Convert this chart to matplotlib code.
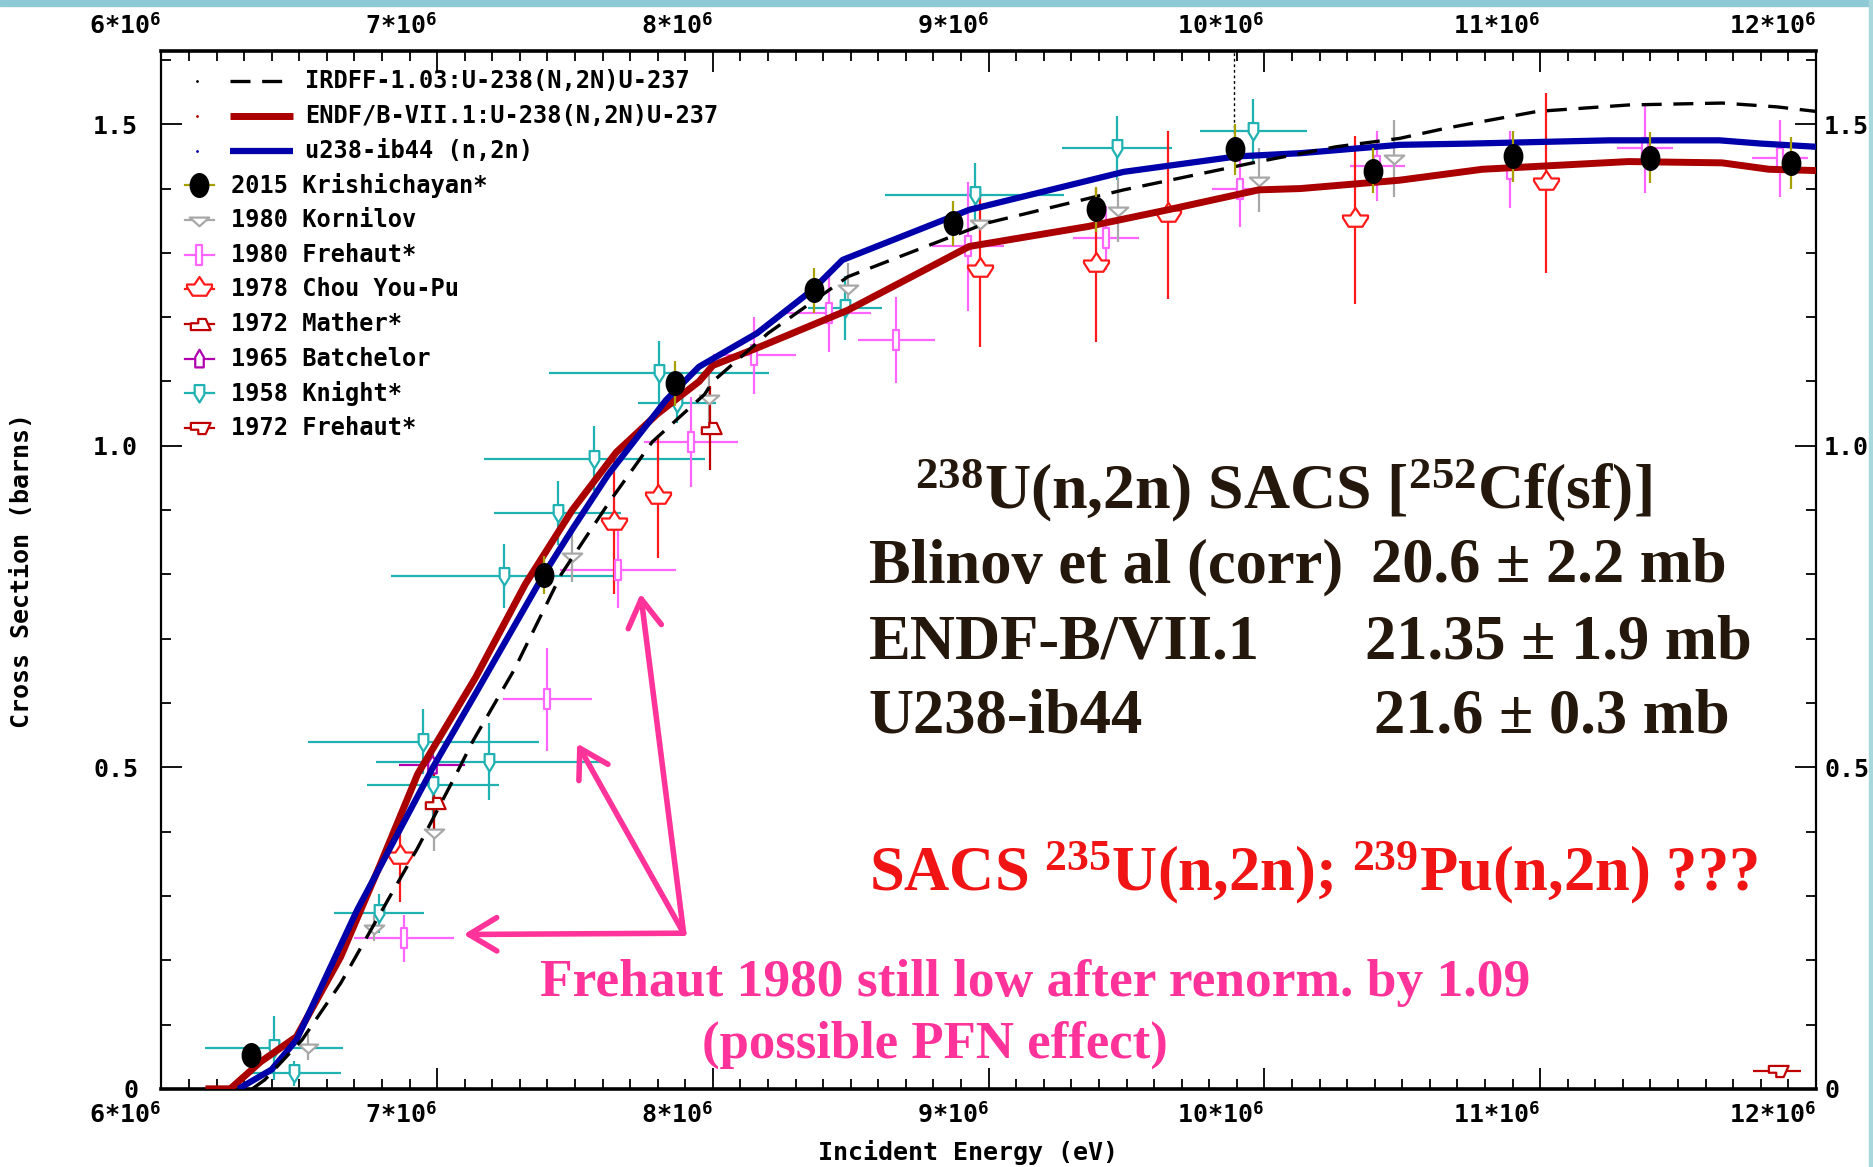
import numpy as np
import matplotlib.pyplot as plt
import matplotlib.path as mpath
from matplotlib.transforms import Affine2D
from matplotlib.patches import Rectangle
from matplotlib.ticker import MultipleLocator

plt.rcParams['mathtext.fontset'] = 'custom'
plt.rcParams['mathtext.rm'] = 'Liberation Serif:bold'
plt.rcParams['mathtext.bf'] = 'Liberation Serif:bold'
plt.rcParams['mathtext.it'] = 'Liberation Serif:bold'
plt.rcParams['mathtext.sf'] = 'DejaVu Sans Mono:bold'

MONO = ['DejaVu Sans Mono', 'DejaVu Sans']
SERIF = ['Liberation Serif', 'DejaVu Serif']

# ---------------- evaluated curves (energy in MeV, cross section in barns)
irdff_e = [6.33, 6.375, 6.51, 6.65, 6.83, 6.93, 7.07, 7.13, 7.28, 7.45, 7.625, 7.78, 7.97, 8.0,
           8.2, 8.49, 8.99, 9.49, 9.98, 10.26, 10.49, 10.66, 10.99, 11.32, 11.66, 11.86, 12.0]
irdff_s = [0.0, 0.014, 0.076, 0.164, 0.30, 0.375, 0.49, 0.541, 0.652, 0.80, 0.913, 1.006, 1.08, 1.10,
           1.175, 1.263, 1.346, 1.398, 1.442, 1.465, 1.478, 1.494, 1.52, 1.53, 1.533, 1.527, 1.52]

endf_e = [6.16, 6.25, 6.36, 6.49, 6.65, 6.79, 6.93, 7.14, 7.32, 7.49, 7.65, 7.80, 7.95, 8.0,
          8.16, 8.49, 8.93, 9.36, 9.65, 9.98, 10.13, 10.49, 10.79, 11.32, 11.66, 11.83, 12.0]
endf_s = [0.0, 0.0, 0.042, 0.081, 0.205, 0.345, 0.49, 0.64, 0.785, 0.90, 0.99, 1.05, 1.10, 1.125,
          1.152, 1.211, 1.31, 1.341, 1.367, 1.398, 1.40, 1.413, 1.43, 1.442, 1.44, 1.43, 1.428]

ib44_e = [6.28, 6.40, 6.49, 6.71, 6.985, 7.14, 7.387, 7.49, 7.62, 7.83, 7.95, 8.16, 8.36, 8.47,
          8.93, 9.49, 9.90, 10.13, 10.49, 10.75, 11.25, 11.65, 11.80, 12.0]
ib44_s = [0.0, 0.03, 0.076, 0.278, 0.50, 0.615, 0.80, 0.87, 0.955, 1.071, 1.123, 1.175, 1.242, 1.289,
          1.367, 1.426, 1.45, 1.455, 1.468, 1.47, 1.475, 1.475, 1.47, 1.465]

irdff_spike_e = [9.89]
irdff_spike_lo = [1.46]

# ---------------- experimental data
kri_e = [6.325, 7.387, 7.863, 8.366, 8.869, 9.389, 9.892, 10.394, 10.90, 11.40, 11.91]
kri_s = [0.052, 0.799, 1.097, 1.242, 1.346, 1.368, 1.461, 1.428, 1.45, 1.448, 1.44]
kri_ds = [0.01, 0.03, 0.035, 0.035, 0.035, 0.035, 0.04, 0.035, 0.04, 0.04, 0.04]

kor_e = [6.53, 6.77, 6.99, 7.49, 7.985, 8.49, 8.97, 9.47, 9.98, 10.47]
kor_s = [0.065, 0.25, 0.40, 0.828, 1.075, 1.245, 1.346, 1.367, 1.413, 1.447]
kor_ds = [0.02, 0.02, 0.03, 0.04, 0.04, 0.04, 0.04, 0.05, 0.05, 0.06]

fre80_e = [6.88, 7.40, 7.655, 7.92, 8.15, 8.42, 8.665, 8.925, 9.425, 9.91, 10.41, 10.89, 11.38, 11.87]
fre80_s = [0.234, 0.606, 0.807, 1.006, 1.141, 1.206, 1.164, 1.31, 1.323, 1.40, 1.435, 1.43, 1.463, 1.447]
fre80_de = [0.18, 0.16, 0.21, 0.17, 0.15, 0.155, 0.14, 0.13, 0.12, 0.10, 0.10, 0.10, 0.10, 0.10]
fre80_ds = [0.037, 0.08, 0.06, 0.07, 0.06, 0.06, 0.067, 0.1, 0.05, 0.06, 0.055, 0.06, 0.07, 0.06]

chou_e = [6.867, 7.64, 7.80, 8.97, 9.39, 9.65, 10.33, 11.02]
chou_s = [0.36, 0.88, 0.921, 1.274, 1.281, 1.359, 1.351, 1.408]
chou_ds = [0.07, 0.11, 0.095, 0.12, 0.12, 0.13, 0.13, 0.14]

mat_e = [6.99, 7.99]
mat_s = [0.445, 1.028]
mat_ds = [0.05, 0.065]

bat_e = [6.98]
bat_s = [0.504]
bat_de = [0.12]

kni_e = [6.41, 6.48, 6.79, 6.95, 6.986, 7.187, 7.243, 7.437, 7.57, 7.805, 7.87, 8.48, 8.95, 9.466, 9.96]
kni_s = [0.063, 0.024, 0.273, 0.54, 0.473, 0.509, 0.798, 0.895, 0.98, 1.113, 1.066, 1.214, 1.39, 1.463, 1.49]
kni_de = [0.25, 0.17, 0.163, 0.42, 0.24, 0.41, 0.41, 0.23, 0.40, 0.40, 0.14, 0.135, 0.325, 0.2, 0.195]
kni_ds = [0.05, 0.02, 0.03, 0.05, 0.05, 0.06, 0.05, 0.05, 0.05, 0.05, 0.03, 0.05, 0.05, 0.05, 0.05]

fre72_e = [11.86]
fre72_s = [0.028]
fre72_de = [0.087]

# Frehaut 1980 arrows: apex and targets
arrow_apex = (7.894, 0.242)
arrow_tips_e = [7.096, 7.508, 7.738]
arrow_tips_s = [0.24, 0.537, 0.77]

x_ticks = [6, 7, 8, 9, 10, 11, 12]
x_labels = [r'6*10$^{\mathsf{6}}$', r'7*10$^{\mathsf{6}}$', r'8*10$^{\mathsf{6}}$',
            r'9*10$^{\mathsf{6}}$', r'10*10$^{\mathsf{6}}$', r'11*10$^{\mathsf{6}}$',
            r'12*10$^{\mathsf{6}}$']
y_ticks = [0, 0.5, 1.0, 1.5]
y_labels = ['0', '0.5', '1.0', '1.5']


def mk(verts):
    return mpath.Path(verts + [verts[0]], closed=True)


ellipse = mpath.Path.unit_circle().transformed(Affine2D().scale(0.78, 1.0))
m_kni = mk([(-0.4, 0.7), (0.4, 0.7), (0.4, -0.1), (0, -0.75), (-0.4, -0.1)])
m_fre80 = mk([(-0.28, -1), (0.28, -1), (0.28, 1), (-0.28, 1)])
m_chou = mk([(0, 1), (0.4, 0.4), (1, 0.4), (1, 0.2), (0.55, -0.5), (-0.55, -0.5),
             (-1, 0.2), (-1, 0.4), (-0.4, 0.4)])
m_mat = mk([(-0.7, -0.45), (0.9, -0.45), (0.5, 0.45), (-0.1, 0.45), (-0.1, 0.1), (-0.7, 0.1)])
m_fre72 = mk([(-0.7, 0.45), (0.9, 0.45), (0.5, -0.45), (-0.1, -0.45), (-0.1, -0.1), (-0.7, -0.1)])
m_bat = mk([(-0.35, -0.65), (0.35, -0.65), (0.35, 0.2), (0, 0.8), (-0.35, 0.2)])
m_kor = mk([(-1, 0.3), (1, 0.3), (0, -0.6)])

E = lambda a: np.asarray(a) * 1e6

fig = plt.figure(figsize=(18.74, 11.67), dpi=100)
fig.patches.append(Rectangle((0, 0.9945), 1, 0.0055, transform=fig.transFigure,
                             color='#8ecad6', zorder=0))
fig.patches.append(Rectangle((0.9975, 0), 0.0025, 1, transform=fig.transFigure,
                             color='#a8d8dc', zorder=0))
ax = fig.add_axes([0.0861, 0.067, 0.8829, 0.889])

# curves
ax.plot(E(endf_e), endf_s, color='#aa0000', lw=5.0, zorder=3, solid_capstyle='butt')
ax.plot(E(ib44_e), ib44_s, color='#0000aa', lw=4.5, zorder=4, solid_capstyle='butt')
ax.plot(E(irdff_e), irdff_s, color='black', lw=2.4, ls=(0, (6, 3.5)), zorder=5)
ax.vlines(E(irdff_spike_e), irdff_spike_lo, 1.62, color='black', lw=1.0, ls=(0, (2, 2)), zorder=5)

# data
common = dict(ls='none', capsize=0, elinewidth=1.6, mew=1.6, mfc='white', zorder=2)
ax.errorbar(E(kni_e), kni_s, xerr=E(kni_de), yerr=kni_ds, marker=m_kni, ms=13,
            color='#20b2b2', **common)
ax.errorbar(E(fre80_e), fre80_s, xerr=E(fre80_de), yerr=fre80_ds, marker=m_fre80, ms=14,
            color='#ff66ff', **common)
ax.errorbar(E(kor_e), kor_s, yerr=kor_ds, marker=m_kor, ms=14, color='#a8a8a8', **common)
ax.errorbar(E(chou_e), chou_s, yerr=chou_ds, marker=m_chou, ms=18, color='#ff1a1a', **common)
ax.errorbar(E(mat_e), mat_s, yerr=mat_ds, marker=m_mat, ms=16, color='#c00000', **common)
ax.errorbar(E(bat_e), bat_s, xerr=E(bat_de), marker=m_bat, ms=14, color='#b000b0', **common)
ax.errorbar(E(fre72_e), fre72_s, xerr=E(fre72_de), marker=m_fre72, ms=16, color='#c00000', **common)
ax.errorbar(E(kri_e), kri_s, yerr=kri_ds, ls='none', marker=ellipse, ms=17, mfc='black',
            mec='black', ecolor='#a8a000', elinewidth=1.6, capsize=0, zorder=6)

# axes styling
ax.set_xlim(6e6, 12e6)
ax.set_ylim(0, 1.6134)
ax.set_xticks(E(x_ticks), x_labels)
ax.set_yticks(y_ticks, y_labels)
ax.xaxis.set_minor_locator(MultipleLocator(1e5))
ax.yaxis.set_minor_locator(MultipleLocator(0.1))
ax.tick_params(which='both', direction='in', top=True, right=True, labeltop=True,
               labelright=True, width=1.3, color='black')
ax.tick_params(which='major', length=15)
ax.tick_params(which='minor', length=7)
ax.tick_params(axis='x', which='major', pad=9)
ax.tick_params(axis='y', which='major', pad=6)
for t in ax.xaxis.get_major_ticks():
    t.label1.set_horizontalalignment('right')
    t.label2.set_horizontalalignment('right')
for t in ax.yaxis.get_major_ticks():
    t.label1.set_x(-0.009)
for t in ax.xaxis.get_major_ticks() + ax.yaxis.get_major_ticks():
    for lab in (t.label1, t.label2):
        lab.set_fontfamily(MONO)
        lab.set_fontweight('bold')
        lab.set_fontsize(18)
for side in ['top', 'bottom']:
    ax.spines[side].set_linewidth(2.6)
for side in ['left', 'right']:
    ax.spines[side].set_linewidth(1.6)

fig.text(0.0115, 0.511, 'Cross Section (barns)', rotation=90, ha='center', va='center',
         family=MONO, weight='bold', fontsize=18)
fig.text(0.5166, 0.0125, 'Incident Energy (eV)', ha='center', va='center',
         family=MONO, weight='bold', fontsize=18)

# manual legend (axes fraction)
rows = [
    ('line', 'black', (0, (6, 3.5)), 2.4, 'IRDFF-1.03:U-238(N,2N)U-237'),
    ('line', '#aa0000', '-', 5.0, 'ENDF/B-VII.1:U-238(N,2N)U-237'),
    ('line', '#0000aa', '-', 4.5, 'u238-ib44 (n,2n)'),
    ('pt', '#a8a000', ellipse, 17, '2015 Krishichayan*'),
    ('pt', '#a8a8a8', m_kor, 14, '1980 Kornilov'),
    ('pt', '#ff66ff', m_fre80, 14, '1980 Frehaut*'),
    ('pt', '#ff1a1a', m_chou, 18, '1978 Chou You-Pu'),
    ('pt', '#c00000', m_mat, 16, '1972 Mather*'),
    ('pt', '#b000b0', m_bat, 14, '1965 Batchelor'),
    ('pt', '#20b2b2', m_kni, 13, '1958 Knight*'),
    ('pt', '#c00000', m_fre72, 16, '1972 Frehaut*'),
]
for i, (kind, col, sty, size, label) in enumerate(rows):
    y = 0.971 - i * 0.0334
    if kind == 'line':
        ax.plot([0.0217], [y], transform=ax.transAxes, marker='.', ms=2, color=col)
        ax.plot([0.0412, 0.0794], [y, y], transform=ax.transAxes, color=col, lw=size,
                ls=sty, solid_capstyle='butt')
        ax.text(0.0866, y, label, transform=ax.transAxes, va='center', family=MONO,
                weight='bold', fontsize=17)
    else:
        ax.plot([0.014, 0.032], [y, y], transform=ax.transAxes, color=col, lw=1.6)
        if label.startswith('2015'):
            ax.plot([0.023], [y], transform=ax.transAxes, marker=sty, ms=size,
                    color='black', ls='none')
        else:
            ax.plot([0.023], [y], transform=ax.transAxes, marker=sty, ms=size,
                    mfc='white', mec=col, mew=1.6, ls='none')
        ax.text(0.0419, y, label, transform=ax.transAxes, va='center', family=MONO,
                weight='bold', fontsize=17)

# annotations
dark = '#24170b'
fig.text(0.488, 0.5647, r'$^{238}$U(n,2n) SACS [$^{252}$Cf(sf)]', family=SERIF,
         weight='bold', fontsize=46, color=dark, va='baseline')
rows_txt = [
    ('Blinov et al (corr)', '20.6 ± 2.2 mb', 0.5013, 0.7316),
    ('ENDF-B/VII.1', '21.35 ± 1.9 mb', 0.4357, 0.7283),
    ('U238-ib44', '21.6 ± 0.3 mb', 0.3722, 0.7334),
]
for left, right, yy, xr in rows_txt:
    fig.text(0.4637, yy, left, family=SERIF, weight='bold', fontsize=45, color=dark,
             va='baseline')
    fig.text(xr, yy, right, family=SERIF, weight='bold', fontsize=45, color=dark,
             va='baseline')
fig.text(0.4637, 0.237, r'SACS $^{235}$U(n,2n); $^{239}$Pu(n,2n) ???', family=SERIF,
         weight='bold', fontsize=45, color='#f01414', va='baseline')

pink = '#ff3399'
fig.text(0.5523, 0.1469, 'Frehaut 1980 still low after renorm. by 1.09', family=SERIF,
         weight='bold', fontsize=38.5, color=pink, ha='center', va='baseline')
fig.text(0.4988, 0.0935, '(possible PFN effect)', family=SERIF, weight='bold',
         fontsize=38, color=pink, ha='center', va='baseline')

for te, ts in zip(arrow_tips_e, arrow_tips_s):
    ax.annotate('', xy=(te * 1e6, ts), xytext=(arrow_apex[0] * 1e6, arrow_apex[1]),
                arrowprops=dict(arrowstyle='->, head_length=0.5, head_width=0.3', lw=4,
                                color=pink, mutation_scale=40, shrinkA=0, shrinkB=0),
                zorder=7)

fig.savefig('out.png', dpi=100)
